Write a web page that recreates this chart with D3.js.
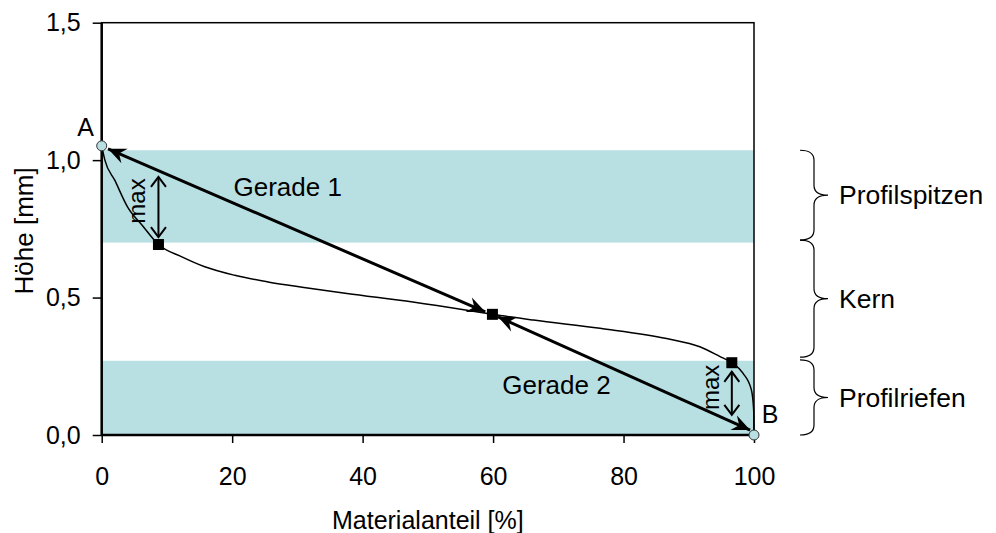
<!DOCTYPE html>
<html lang="de">
<head>
<meta charset="UTF-8">
<script src="https://d3js.org/d3.v7.min.js"></script>
<style>
  body { margin: 0; background: #fff; }
  text { font-family: "Liberation Sans", Arial, sans-serif; fill: #000; }
</style>
</head>
<body>
<svg id="chart" width="996" height="533"></svg>
<script>
// Daten
const xTicks = [0, 20, 40, 60, 80, 100];
const yTicks = [0, 0.5, 1.0, 1.5];

// Abbott-Kurve (Materialanteil, Höhe)
const profileX = [0, 0.5, 2.0, 4.0, 6.2, 8.7, 12.3, 15.8, 20.4, 25.5, 31.0, 37.6, 47.7, 56.0, 59.9, 66.2, 76.4, 86.6, 91.7, 94.8, 96.6, 98.3, 99.6, 99.95, 100];
const profileY = [1.052, 0.999, 0.927, 0.828, 0.763, 0.693, 0.648, 0.612, 0.581, 0.557, 0.537, 0.515, 0.484, 0.454, 0.439, 0.418, 0.388, 0.351, 0.321, 0.285, 0.263, 0.225, 0.164, 0.091, 0.007];

// Bereiche (Bänder)
const bandLow = [0.70, 0];
const bandHigh = [1.036, 0.27];

// Punkte A und B
const endLabels = ["A", "B"];
const endX = [0, 100];
const endY = [1.052, 0];

// Schnittpunkte
const squareX = [8.7, 59.9, 96.6];
const squareY = [0.693, 0.439, 0.263];

// Geraden (Pfeile)
const lineNames = ["Gerade 1", "Gerade 2"];
const lineFrom = [[58.8, 0.448], [60.75, 0.43]];
const lineTo = [[0.97, 1.041], [99.4, 0.018]];
const lineLabelPos = [[20.2, 0.87], [61.4, 0.148]];

// max-Pfeile
const maxX = [8.7, 96.6];
const maxLow = [0.72, 0.073];
const maxHigh = [0.939, 0.23];

// Klammern rechts
const zoneNames = ["Profilspitzen", "Kern", "Profilriefen"];
const zoneTop = [1.036, 0.709, 0.273];
const zoneBottom = [0.709, 0.283, 0];

const width = 996, height = 533;
const margin = { top: 22.7, right: 242, bottom: 98, left: 101.7 };

const svg = d3.select("#chart");

const x = d3.scaleLinear().domain([0, 100]).range([margin.left, width - margin.right]);
const y = d3.scaleLinear().domain([0, 1.5]).range([height - margin.bottom, margin.top]);
const fmt = d => d3.format(".1f")(d).replace(".", ",");

// Marker
const defs = svg.append("defs");
defs.append("marker")
    .attr("id", "stealth")
    .attr("viewBox", "-19 -10 21 20")
    .attr("refX", 0).attr("refY", 0)
    .attr("markerWidth", 21).attr("markerHeight", 20)
    .attr("markerUnits", "userSpaceOnUse")
    .attr("orient", "auto-start-reverse")
    .append("path")
    .attr("d", "M0,0 L-18,-8 L-12,0 L-18,8 Z")
    .attr("fill", "#000");
defs.append("marker")
    .attr("id", "chevron")
    .attr("viewBox", "-12 -9 14 18")
    .attr("refX", 0).attr("refY", 0)
    .attr("markerWidth", 14).attr("markerHeight", 18)
    .attr("markerUnits", "userSpaceOnUse")
    .attr("orient", "auto-start-reverse")
    .append("path")
    .attr("d", "M-10,-7.5 L0,0 L-10,7.5")
    .attr("fill", "none")
    .attr("stroke", "#000")
    .attr("stroke-width", 2);

// Bänder
svg.selectAll(".band")
    .data(bandLow)
    .enter().append("rect")
    .attr("class", "band")
    .attr("x", x(0))
    .attr("width", x(100) - x(0))
    .attr("y", (d, i) => y(bandHigh[i]))
    .attr("height", (d, i) => y(d) - y(bandHigh[i]))
    .attr("fill", "#b8e0e3");

// Achsen
svg.append("g")
    .attr("transform", `translate(${margin.left},0)`)
    .call(d3.axisLeft(y).tickValues(yTicks).tickFormat(fmt).tickSize(9).tickSizeOuter(0).tickPadding(12))
    .call(g => g.select(".domain").remove())
    .call(g => g.selectAll("line").attr("stroke", "#000").attr("stroke-width", 1.5))
    .call(g => g.selectAll("text").attr("font-size", 25).attr("font-family", "Liberation Sans, Arial, sans-serif"));

svg.append("g")
    .attr("transform", `translate(0,${y(0)})`)
    .call(d3.axisBottom(x).tickValues(xTicks).tickSize(8).tickSizeOuter(0).tickPadding(24))
    .call(g => g.select(".domain").remove())
    .call(g => g.selectAll("line").attr("stroke", "#000").attr("stroke-width", 1.5))
    .call(g => g.selectAll("text").attr("font-size", 25).attr("font-family", "Liberation Sans, Arial, sans-serif"));

// Rahmen
svg.append("rect")
    .attr("x", x(0)).attr("y", y(1.5))
    .attr("width", x(100) - x(0)).attr("height", y(0) - y(1.5))
    .attr("fill", "none").attr("stroke", "#000").attr("stroke-width", 1.5);
svg.append("line")
    .attr("x1", x(0)).attr("x2", x(0)).attr("y1", y(1.5)).attr("y2", y(0))
    .attr("stroke", "#000").attr("stroke-width", 2.5);
svg.append("line")
    .attr("x1", x(0)).attr("x2", x(100)).attr("y1", y(0)).attr("y2", y(0))
    .attr("stroke", "#000").attr("stroke-width", 2.5);

// Kurve
const line = d3.line()
    .x(d => x(d[0]))
    .y(d => y(d[1]))
    .curve(d3.curveMonotoneX);
svg.append("path")
    .datum(profileX.map((v, i) => [v, profileY[i]]))
    .attr("d", line)
    .attr("fill", "none")
    .attr("stroke", "#000")
    .attr("stroke-width", 1.5);

// Geraden
svg.selectAll(".gerade")
    .data(lineNames)
    .enter().append("line")
    .attr("class", "gerade")
    .attr("x1", (d, i) => x(lineFrom[i][0]))
    .attr("y1", (d, i) => y(lineFrom[i][1]))
    .attr("x2", (d, i) => x(lineTo[i][0]))
    .attr("y2", (d, i) => y(lineTo[i][1]))
    .attr("stroke", "#000")
    .attr("stroke-width", 3)
    .attr("marker-start", "url(#stealth)")
    .attr("marker-end", "url(#stealth)");

svg.selectAll(".gerade-label")
    .data(lineNames)
    .enter().append("text")
    .attr("class", "gerade-label")
    .attr("x", (d, i) => x(lineLabelPos[i][0]))
    .attr("y", (d, i) => y(lineLabelPos[i][1]))
    .style("font-size", "26px")
    .text(d => d);

// max-Pfeile
svg.selectAll(".maxarrow")
    .data(maxX)
    .enter().append("line")
    .attr("class", "maxarrow")
    .attr("x1", d => x(d)).attr("x2", d => x(d))
    .attr("y1", (d, i) => y(maxLow[i]))
    .attr("y2", (d, i) => y(maxHigh[i]))
    .attr("stroke", "#000")
    .attr("stroke-width", 2)
    .attr("marker-start", "url(#chevron)")
    .attr("marker-end", "url(#chevron)");

svg.selectAll(".maxlabel")
    .data(maxX)
    .enter().append("text")
    .attr("class", "maxlabel")
    .attr("transform", (d, i) => `translate(${x(d) - 13},${y((maxLow[i] + maxHigh[i]) / 2) - 6}) rotate(-90)`)
    .attr("text-anchor", "middle")
    .style("font-size", "24px")
    .text("max");

// Quadrate
svg.selectAll(".sq")
    .data(squareX)
    .enter().append("rect")
    .attr("class", "sq")
    .attr("x", d => x(d) - 5.5)
    .attr("y", (d, i) => y(squareY[i]) - 5.5)
    .attr("width", 11).attr("height", 11)
    .attr("fill", "#000");

// Punkte A, B
svg.selectAll(".endpt")
    .data(endX)
    .enter().append("circle")
    .attr("class", "endpt")
    .attr("cx", d => x(d))
    .attr("cy", (d, i) => y(endY[i]))
    .attr("r", 5)
    .attr("fill", "#b8e0e3")
    .attr("stroke", "#333")
    .attr("stroke-width", 1);

svg.selectAll(".endlabel")
    .data(endLabels)
    .enter().append("text")
    .attr("class", "endlabel")
    .attr("x", (d, i) => x(endX[i]) + (i === 0 ? -16 : 16))
    .attr("y", (d, i) => y(endY[i]) + (i === 0 ? -10 : -12))
    .attr("text-anchor", "middle")
    .style("font-size", "25px")
    .text(d => d);

// Klammern
const bx0 = 800, bx1 = 814, bx2 = 828, r = 10;
svg.selectAll(".brace")
    .data(zoneNames)
    .enter().append("path")
    .attr("class", "brace")
    .attr("d", (d, i) => {
        const t = y(zoneTop[i]), b = y(zoneBottom[i]), m = (t + b) / 2;
        return `M${bx0},${t} Q${bx1},${t} ${bx1},${t + r} L${bx1},${m - r} Q${bx1},${m} ${bx2},${m}`
            + ` Q${bx1},${m} ${bx1},${m + r} L${bx1},${b - r} Q${bx1},${b} ${bx0},${b}`;
    })
    .attr("fill", "none")
    .attr("stroke", "#000")
    .attr("stroke-width", 1.2);

svg.selectAll(".zone")
    .data(zoneNames)
    .enter().append("text")
    .attr("class", "zone")
    .attr("x", 839)
    .attr("y", (d, i) => (y(zoneTop[i]) + y(zoneBottom[i])) / 2)
    .attr("dy", "0.35em")
    .style("font-size", "26.5px")
    .text(d => d);

// Achsentitel
svg.append("text")
    .attr("x", (x(0) + x(100)) / 2)
    .attr("y", 529)
    .attr("text-anchor", "middle")
    .style("font-size", "25px")
    .text("Materialanteil [%]");

svg.append("text")
    .attr("transform", `translate(33,${(y(0) + y(1.5)) / 2 + 2}) rotate(-90)`)
    .attr("text-anchor", "middle")
    .style("font-size", "26px")
    .text("Höhe [mm]");
</script>
</body>
</html>
